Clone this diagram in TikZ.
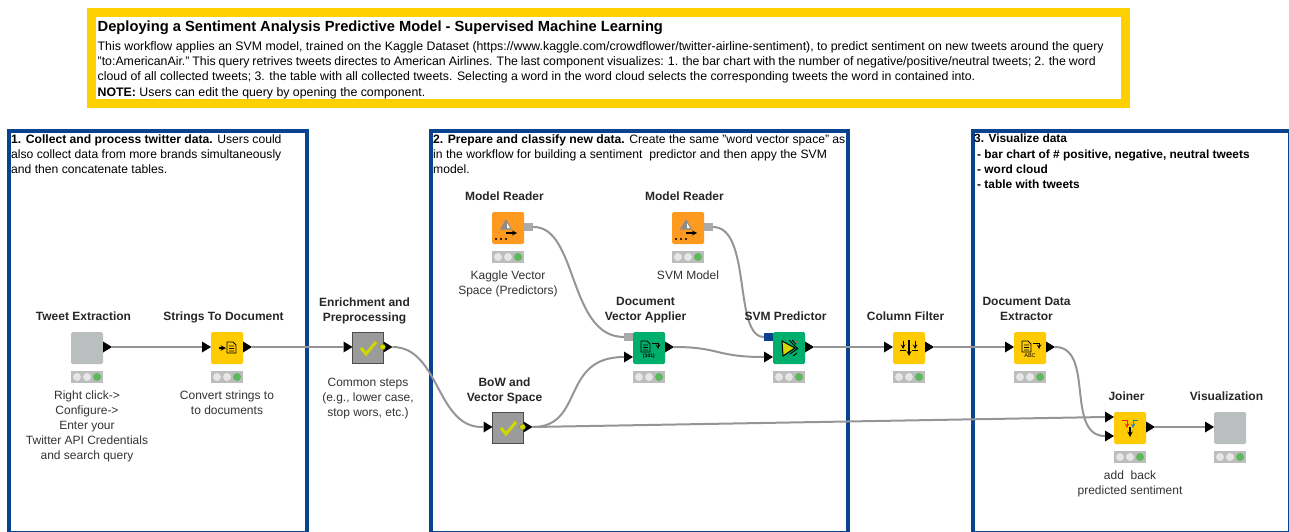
\documentclass[tikz,border=0pt]{standalone}
\usepackage{fontspec}
\setmainfont{Liberation Sans}
\usetikzlibrary{shapes.geometric}

\definecolor{bannerY}{HTML}{FFD000}
\definecolor{frameB}{HTML}{08438F}
\definecolor{orangeN}{HTML}{FF9A21}
\definecolor{yellowN}{HTML}{FFCB05}
\definecolor{greenN}{HTML}{00AF6C}
\definecolor{compN}{HTML}{BABEBE}
\definecolor{metaN}{HTML}{9B9B9B}
\definecolor{checkN}{HTML}{CFD800}
\definecolor{wireC}{HTML}{959595}
\definecolor{barC}{HTML}{BDBDBD}
\definecolor{lampOn}{HTML}{5CB85C}
\definecolor{lampOff}{HTML}{E6E6E6}

\begin{document}
\begin{tikzpicture}[x=1pt,y=-1pt]

% GLOBAL SETTINGS
\tikzset{
  box/.style={minimum size=32pt, inner sep=0pt, outer sep=0pt, rounded corners=1.5pt},
  orangebox/.style={box, fill=orangeN},
  yellowbox/.style={box, fill=yellowN},
  greenbox/.style={box, fill=greenN},
  compbox/.style={box, fill=compN},
  metabox/.style={box, rounded corners=0pt, fill=metaN, draw=black!70, line width=1.2pt, minimum size=31pt},
  inport/.style={isosceles triangle, isosceles triangle apex angle=60, isosceles triangle stretches,
    fill=black, inner sep=0pt, outer sep=0pt, minimum width=11pt, minimum height=9pt, anchor=apex},
  outport/.style={inport, anchor=lower side},
  modelport/.style={minimum width=9pt, minimum height=8pt, inner sep=0pt, outer sep=0pt, fill=#1},
  lightbar/.style={minimum width=32pt, minimum height=12pt, inner sep=0pt, fill=barC},
  lamp/.style={circle, minimum size=8pt, inner sep=0pt, fill=#1},
  wire/.style={draw=wireC, line width=2pt},
  frame/.style={draw=frameB, line width=4pt},
  title/.style={font=\fontsize{12}{15}\selectfont\bfseries, align=center, text=black!85, inner sep=0pt, text depth=3pt},
  note/.style={font=\fontsize{12}{15}\selectfont, align=center, text=black!80, inner sep=0pt},
  head/.style={font=\fontsize{12.15}{15.2}\selectfont, align=left, anchor=north west, inner sep=0pt, text=black},
  icon/.style={line width=1pt, draw=black},
}
\newcommand{\docicon}[2]{% document glyph, top left corner at #1,#2
  \draw[icon, line width=.9pt] (#1,#2) -- ++(6,0) -- ++(3,3) -- ++(0,8) -- ++(-9,0) -- cycle
    (#1+2,#2+4) -- ++(5,0) (#1+2,#2+6.5) -- ++(5,0) (#1+2,#2+9) -- ++(5,0);
}

\useasboundingbox (0,0) rectangle (1289,532);

% BANNER
\node[draw=bannerY, fill=white, line width=9pt, minimum width=1034pt, minimum height=91pt, inner sep=0pt] (banner) at (608.5,58) {};
\node[head, font=\fontsize{14.7}{17}\selectfont\bfseries] (bannertitle) at (97.5,21) {Deploying a Sentiment Analysis Predictive Model - Supervised Machine Learning};
\node[head, font=\fontsize{12.33}{15.3}\selectfont] (bannertext) at (97.5,41) {This workflow applies an SVM model, trained on the Kaggle Dataset (https://www.kaggle.com/crowdflower/twitter-airline-sentiment), to predict sentiment on new tweets around the query\\
{\spaceskip=2.95pt "to:AmericanAir." This query retrives tweets directes to American Airlines. The last component visualizes: 1. the bar chart with the number of negative/positive/neutral tweets; 2. the word}\\
cloud of all collected tweets; 3. the table with all collected tweets. Selecting a word in the word cloud selects the corresponding tweets the word in contained into.\\
\textbf{NOTE:} Users can edit the query by opening the component.};

% FRAMES
\foreach \f/\xa/\xb in {one/9/306.5, two/431/848, three/972.5/1289.5} {
\node[frame, inner sep=0pt, outer sep=0pt, minimum width=\xb pt-\xa pt, minimum height=402pt] (\f) at ({(\xa+\xb)/2},332) {};
}
\node[head] (onetext) at (11,134) {\textbf{1. Collect and process twitter data.} Users could\\also collect data from more brands simultaneously\\and then concatenate tables.};
\node[head] (twotext) at (433,134) {\textbf{2. Prepare and classify new data.} Create the same "word vector space" as\\in the workflow for building a sentiment\ \ predictor and then appy the SVM\\model.};
\node[head, font=\fontsize{11.9}{15.2}\selectfont\bfseries] (threetext) at (974,134) {3. Visualize data\\\hspace*{3pt}- bar chart of \# positive, negative, neutral tweets\\\hspace*{3pt}- word cloud\\\hspace*{3pt}- table with tweets};

% NODES
\foreach \n/\s/\x/\y in {TE/compbox/87/348, SD/yellowbox/227/348, EP/metabox/368/348, BV/metabox/508/428,
  MRa/orangebox/508/228, MRb/orangebox/688/228, DV/greenbox/649/348, SP/greenbox/789/348,
  CF/yellowbox/909/348, DX/yellowbox/1030/348, JN/yellowbox/1130/428, VZ/compbox/1230/428} {
\node[\s] (\n) at (\x,\y) {};
}
% status lights
\foreach \n in {TE,SD,MRa,MRb,DV,SP,CF,DX,JN,VZ} {
\node[lightbar] (\n-bar) at ([yshift=-29pt]\n.center) {};
\node[lamp=lampOff] (\n-lampa) at ([xshift=-10pt]\n-bar.center) {};
\node[lamp=lampOff] (\n-lampb) at (\n-bar.center) {};
\node[lamp=lampOn] (\n-lampc) at ([xshift=10pt]\n-bar.center) {};
}

% PORTS
\foreach \n in {TE,SD,EP,BV,DV,SP,CF,DX,JN} {
\node[outport] (\n-out) at ([yshift=1pt]\n.east) {};
}
\foreach \n in {SD,EP,BV,CF,DX,VZ} {
\node[inport] (\n-in) at ([yshift=1pt]\n.west) {};
}
\node[inport] (DV-in) at ([yshift=-9pt]DV.west) {};
\node[inport] (SP-in) at ([yshift=-9pt]SP.west) {};
\node[inport] (JN-ina) at ([yshift=11pt]JN.west) {};
\node[inport] (JN-inb) at ([yshift=-8pt]JN.west) {};
\node[modelport=wireC!80, anchor=west] (MRa-out) at ([yshift=1pt]MRa.east) {};
\node[modelport=wireC!80, anchor=west] (MRb-out) at ([yshift=1pt]MRb.east) {};
\node[modelport=wireC!80, anchor=east] (DV-mod) at ([yshift=11pt]DV.west) {};
\node[modelport=frameB, anchor=east] (SP-mod) at ([yshift=11pt]SP.west) {};
\node[circle, fill=checkN, draw=black!60, line width=.3pt, minimum size=6pt, inner sep=0pt] (EP-dot) at ([xshift=-1pt]EP-out.lower side) {};
\node[circle, fill=checkN, draw=black!60, line width=.3pt, minimum size=6pt, inner sep=0pt] (BV-dot) at ([xshift=-1pt]BV-out.lower side) {};

% EDGES
\draw[wire] (TE-out.apex) -- (SD-in.lower side);
\draw[wire] (SD-out.apex) -- (EP-in.lower side);
\draw[wire] (EP-out.apex) .. controls (440,347) and (436,429) .. (BV-in.lower side);
\draw[wire] (BV-out.apex) .. controls (585,427) and (560,357) .. (DV-in.lower side);
\draw[wire] (BV-out.apex) -- (JN-ina.lower side);
\draw[wire] (MRa-out.east) .. controls (578,226) and (568,337) .. (DV-mod.west);
\draw[wire] (MRb-out.east) .. controls (752,227) and (733,337) .. (SP-mod.west);
\draw[wire] (DV-out.apex) .. controls (720,347) and (715,357) .. (SP-in.lower side);
\draw[wire] (SP-out.apex) -- (CF-in.lower side);
\draw[wire] (CF-out.apex) -- (DX-in.lower side);
\draw[wire] (DX-out.apex) .. controls (1095,347) and (1065,436) .. (JN-inb.lower side);
\draw[wire] (JN-out.apex) -- (VZ-in.lower side);

% TITLES
\foreach \n/\t in {TE/Tweet Extraction, SD/Strings To Document, EP/Enrichment and\\Preprocessing, DV/Document\\Vector Applier,
  SP/SVM Predictor, CF/Column Filter, DX/Document Data\\Extractor, JN/Joiner, VZ/Visualization, BV/BoW and\\Vector Space,
  MRa/Model Reader, MRb/Model Reader} {
\node[title, anchor=south] (\n-title) at ([shift={(-3.5pt,8pt)}]\n.north) {\t};
}
% NOTES
\node[note, anchor=north] (TE-note) at ([yshift=-7pt]TE-bar.south) {Right click->\\Configure->\\Enter your\\Twitter API Credentials\\and search query};
\node[note, anchor=north] (SD-note) at ([yshift=-7pt]SD-bar.south) {Convert strings to\\to documents};
\node[note, anchor=north] (EP-note) at ([yshift=-14pt]EP.south) {Common steps\\(e.g., lower case,\\stop wors, etc.)};
\node[note, anchor=north] (MRa-note) at ([yshift=-7pt]MRa-bar.south) {Kaggle Vector\\Space (Predictors)};
\node[note, anchor=north] (MRb-note) at ([yshift=-7pt]MRb-bar.south) {SVM Model};
\node[note, anchor=north] (JN-note) at ([yshift=-7pt]JN-bar.south) {add\ \ back\\predicted sentiment};

% ICONS
\foreach \n in {EP,BV} {
\draw[checkN, line width=3pt] ([shift={(-7pt,0pt)}]\n.center) -- ([shift={(-2pt,-6pt)}]\n.center) -- ([shift={(8pt,6pt)}]\n.center);
}
% model reader
\foreach \n in {MRa,MRb} {
\begin{scope}[shift={(\n.center)}]
\fill[black!45] (-2,-9) -- (4,1.5) -- (-8,1.5) -- cycle;
\fill[white] (-1,-5) -- (2,0) -- (-1,0) -- cycle;
\draw[icon, line width=1.2pt, -{stealth}] (-2,5) -- (9,5);
\foreach \d in {-12,-7,-2} { \fill (\d,11) circle (1.1); }
\end{scope}
}
% strings to document
\begin{scope}[shift={(SD.center)}]
\draw[icon, line width=1.4pt, -{stealth}] (-8,0) -- (-1,0);
\docicon{0}{-6}
\end{scope}
% document vector applier
\begin{scope}[shift={(DV.center)}]
\docicon{-8}{-7}
\draw[icon, ->, >=stealth] (3,-5) -- (9,-5) -- (9,1);
\node[font=\fontsize{5}{5}\selectfont\bfseries, inner sep=0pt] (DV-icon) at (0,8) {(101)};
\end{scope}
% document data extractor
\begin{scope}[shift={(DX.center)}]
\docicon{-8}{-7}
\draw[icon, ->, >=stealth] (3,-5) -- (9,-5) -- (9,1);
\node[font=\fontsize{5.5}{5.5}\selectfont, inner sep=0pt] (DX-icon) at (0,8) {ABC};
\end{scope}
% svm predictor
\begin{scope}[shift={(SP.center)}]
\draw[fill=checkN, line width=1pt] (-7,-7) -- (6,0) -- (-6,8) -- cycle;
\draw[line width=.9pt] (0,-8) -- (9,1) (3,-8) -- (7,-4) (1,6) -- (8,1) (4,8) -- (8,5);
\fill[red!70] (7,-6) circle (1.2);
\end{scope}
% column filter
\begin{scope}[shift={(CF.center)}]
\draw[icon, line width=1.2pt, -{stealth}] (0,-8) -- (0,8);
\draw[icon, -{stealth}] (-6,-7) -- (-6,1);
\draw[icon, -{stealth}] (6,-7) -- (6,1);
\draw[icon] (-9,2) -- (-3,2) (3,2) -- (9,2);
\end{scope}
% joiner
\begin{scope}[shift={(JN.center)}]
\draw[red!75!orange, line width=1pt, -{stealth}] (-8,-8) -- (-3,-8) -- (-3,0);
\draw[cyan!70!blue, line width=1pt, -{stealth}] (8,-8) -- (3,-8) -- (3,0);
\draw[icon, line width=1.4pt, -{stealth}] (0,-1) -- (0,9);
\end{scope}

\end{tikzpicture}
\end{document}
